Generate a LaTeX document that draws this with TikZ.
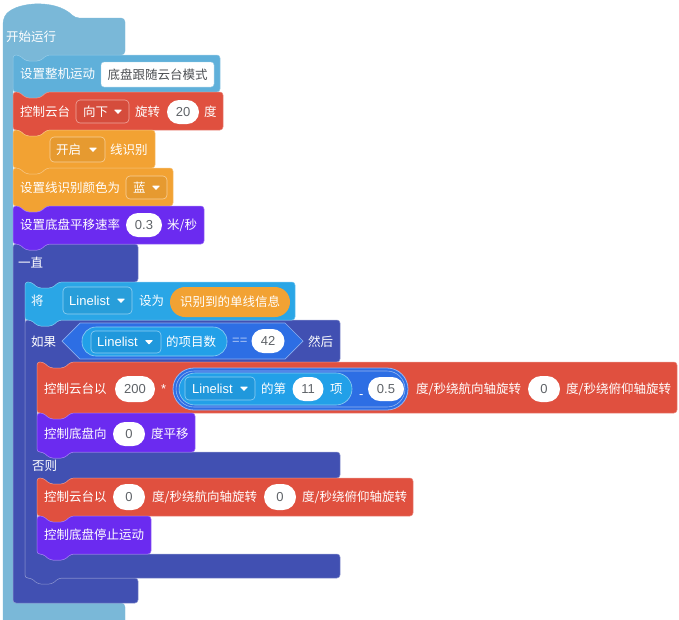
\documentclass[tikz,border=0pt]{standalone}
\usepackage{fontspec}
\setmainfont{Noto Sans CJK SC}
\newfontfamily\latf{Liberation Sans}
\newcommand{\cjksize}{\fontsize{12.5}{14}\selectfont}
\newcommand{\latsize}{\latf\fontsize{13}{15}\selectfont}

\definecolor{hatblue}{HTML}{7AB8D8}
\definecolor{setblue}{HTML}{5FB0DA}
\definecolor{gimbalred}{HTML}{E0503F}
\definecolor{visorange}{HTML}{F2A233}
\definecolor{chassispurple}{HTML}{6B2BF0}
\definecolor{ctrlblue}{HTML}{4150B2}
\definecolor{varblue}{HTML}{2AA6E6}
\definecolor{opblue}{HTML}{2D6EE4}
\definecolor{listblue}{HTML}{22A0E8}
\definecolor{numgray}{HTML}{5F6368}

% stacked block: colour, left, top, right, bottom
\newcommand{\stackblock}[5]{%
  \filldraw[fill=#1, draw=#1!65!white, line width=0.5, rounded corners=3]
    (#2,#5) -- (#2,#3) -- (#2+6,#3) -- (#2+13,#3+6) -- (#2+27,#3+6) -- (#2+34,#3)
    -- (#4,#3) -- (#4,#5) -- (#2+34,#5) -- (#2+27,#5+6) -- (#2+13,#5+6) -- (#2+6,#5) -- cycle;}
% small dropdown arrow
\newcommand{\ddarrow}[2]{%
  \fill[white, rounded corners=0.6] (#1-4,#2-1.8) -- (#1+4,#2-1.8) -- (#1,#2+2.6) -- cycle;}

\tikzset{
  lbl/.style={anchor=west, inner sep=0, text=white, font=\cjksize},
  num/.style={fill=white, rounded corners=12, minimum height=24, inner sep=0,
    text=numgray, font=\latsize},
  bignum/.style={num, minimum height=26, rounded corners=13},
  dd/.style={draw=#1!50!white, fill=#1!95!black, line width=0.6, rounded corners=4},
  pill/.style={fill=listblue, draw=listblue!50!white, line width=0.6, rounded corners=14},
}

\begin{document}
\begin{tikzpicture}[x=1pt,y=-1pt]
    \useasboundingbox (0,0) rectangle (679,619);
    \clip (0,0) rectangle (679,619);

    % Hat block
    \filldraw[fill=hatblue, draw=hatblue, rounded corners=4]
        (3,630) -- (3,20) .. controls (12,2) and (55,-2) .. (75,18) -- (125,18) -- (125,55)
        -- (47,55) -- (40,61) -- (26,61) -- (19,55) -- (13,55) -- (13,603) -- (125,603) -- (125,630) -- cycle;
    \node[lbl] (hatlbl) at (6,37) {开始运行};

    % Forever loop
    \filldraw[fill=ctrlblue, draw=ctrlblue!60!white, line width=0.5, rounded corners=3]
        (13,603) -- (13,244) -- (19,244) -- (26,250) -- (40,250) -- (47,244) -- (138,244) -- (138,282)
        -- (59,282) -- (52,288) -- (38,288) -- (31,282) -- (25,282) -- (25,578) -- (138,578) -- (138,603) -- cycle;
    \node[lbl] (foreverlbl) at (18,263) {一直};

    % If / else
    \filldraw[fill=ctrlblue, draw=ctrlblue!60!white, line width=0.5, rounded corners=3]
        (25,578) -- (25,320) -- (31,320) -- (38,326) -- (52,326) -- (59,320) -- (340,320) -- (340,362)
        -- (71,362) -- (64,368) -- (50,368) -- (43,362) -- (37,362) -- (37,452)
        -- (43,452) -- (50,458) -- (64,458) -- (71,452) -- (340,452) -- (340,478)
        -- (71,478) -- (64,484) -- (50,484) -- (43,478) -- (37,478) -- (37,554)
        -- (43,554) -- (50,560) -- (64,560) -- (71,554) -- (340,554) -- (340,578)
        -- (59,578) -- (52,584) -- (38,584) -- (31,578) -- cycle;
    \node[lbl] (iflbl) at (31,342) {如果};
    \node[lbl] (thenlbl) at (308,342) {然后};
    \node[lbl] (elselbl) at (32,466) {否则};

    % Command blocks
    \foreach \c/\l/\t/\r/\b in {setblue/13/55/220/92, gimbalred/13/92/223/130,
        visorange/13/130/155/168, visorange/13/168/173/206, chassispurple/13/206/204/244,
        varblue/25/282/295/320, gimbalred/37/362/677/413, chassispurple/37/413/195/452,
        gimbalred/37/478/413/516, chassispurple/37/516/151/554}
        \stackblock{\c}{\l}{\t}{\r}{\b};

    % Robot mode
    \node[lbl] (modelbl) at (20,74) {设置整机运动};
    \draw[fill=white, draw=setblue!60!white, rounded corners=3] (101,62) rectangle (214,87);
    \node[inner sep=0, text=numgray!80!black, font=\cjksize] (modeval) at (157.5,74.5) {底盘跟随云台模式};

    % Gimbal rotate
    \node[lbl] (gimballbl) at (20,112) {控制云台};
    \draw[dd=gimbalred] (76,100) rectangle (129,123);
    \node[lbl] (dirval) at (83,111.5) {向下};
    \ddarrow{118}{111.5}
    \node[lbl] (rotlbl) at (135,112) {旋转};
    \node[num, minimum width=32] (angval) at (183,112) {20};
    \node[lbl] (deglbl) at (204,112) {度};

    % Line recognition
    \draw[dd=visorange] (50,137) rectangle (105,162);
    \node[lbl] (onval) at (56,149.5) {开启};
    \ddarrow{93}{149.5}
    \node[lbl] (linelbl) at (110,150) {线识别};
    \node[lbl] (colorlbl) at (20,188) {设置线识别颜色为};
    \draw[dd=visorange] (126,176) rectangle (167,199);
    \node[lbl] (colorval) at (133,187.5) {蓝};
    \ddarrow{156}{187.5}

    % Chassis speed
    \node[lbl] (speedlbl) at (20,225) {设置底盘平移速率};
    \node[num, minimum width=36] (speedval) at (144,225) {0.3};
    \node[lbl] (unitlbl) at (167,225) {米/秒};

    % Set variable
    \node[lbl] (setlbl) at (31,301) {将};
    \draw[dd=varblue] (63,287) rectangle (132,314);
    \node[lbl, font=\latsize] (varname) at (69,300.5) {Linelist};
    \ddarrow{121}{300.5}
    \node[lbl] (tolbl) at (139,301) {设为};
    \node[fill=visorange, rounded corners=15, minimum height=30, minimum width=120, inner sep=0,
        text=white, font=\cjksize] (lineinfo) at (230,302) {识别到的单线信息};

    % Condition
    \filldraw[fill=opblue, draw=opblue!55!white, line width=0.7]
        (62,341) -- (80,323) -- (285,323) -- (303,341) -- (285,359) -- (80,359) -- cycle;
    \draw[pill] (82,327) rectangle (227,356);
    \draw[dd=listblue] (91,331) rectangle (161,353);
    \node[lbl, font=\latsize] (ifvar) at (97,342) {Linelist};
    \ddarrow{149}{342}
    \node[lbl] (countlbl) at (166,342) {的项目数};
    \node[lbl, text=opblue!40!white, font=\latsize] (eqlbl) at (232,341) {==};
    \node[num, minimum width=33] (cmpval) at (268,341) {42};

    % Gimbal speed
    \node[lbl] (spinlbl) at (44,389) {控制云台以};
    \node[bignum, minimum width=40] (gainval) at (135,389) {200};
    \node[lbl, font=\latsize] (mullbl) at (161,389) {*};
    \filldraw[fill=opblue, draw=opblue!50!white, line width=0.8, rounded corners=21] (173,368) rectangle (408,410);
    \draw[opblue!50!white, line width=0.6, rounded corners=18] (176,371) rectangle (405,407);
    \draw[pill, rounded corners=16] (179,373) rectangle (352,405);
    \draw[dd=listblue] (185,377) rectangle (255,400);
    \node[lbl, font=\latsize] (itemvar) at (192,388.5) {Linelist};
    \ddarrow{244}{388.5}
    \node[lbl] (nthlbl) at (261,389) {的第};
    \node[num, minimum width=31] (idxval) at (308,389) {11};
    \node[lbl] (itemlbl) at (330,389) {项};
    \node[anchor=base west, inner sep=0, text=white, font=\latsize] (sublbl) at (359,398.5) {-};
    \node[num, minimum width=36] (offval) at (386,389) {0.5};
    \node[lbl] (yawlbl) at (416,389) {度/秒绕航向轴旋转};
    \node[bignum, minimum width=32] (pitchval) at (544,389) {0};
    \node[lbl] (pitchlbl) at (566,389) {度/秒绕俯仰轴旋转};

    % Chassis move
    \node[lbl] (movelbl) at (44,434) {控制底盘向};
    \node[num, minimum width=32] (dirdeg) at (129,434) {0};
    \node[lbl] (translbl) at (151,434) {度平移};

    % Else branch
    \node[lbl] (spin2lbl) at (44,497) {控制云台以};
    \node[bignum, minimum width=32] (yawzero) at (129,497) {0};
    \node[lbl] (yaw2lbl) at (152,497) {度/秒绕航向轴旋转};
    \node[bignum, minimum width=32] (pitchzero) at (280,497) {0};
    \node[lbl] (pitch2lbl) at (302,497) {度/秒绕俯仰轴旋转};
    \node[lbl] (stoplbl) at (44,535) {控制底盘停止运动};
\end{tikzpicture}
\end{document}
